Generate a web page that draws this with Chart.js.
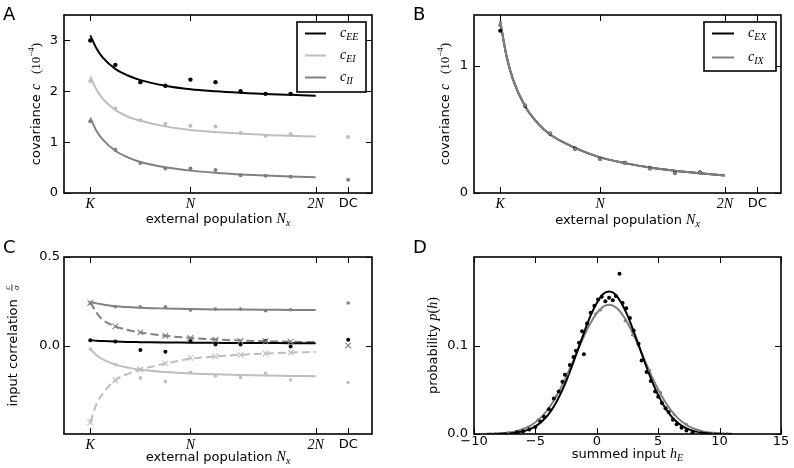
<!DOCTYPE html>
<html><head><meta charset="utf-8">
<script src="https://cdn.jsdelivr.net/npm/chart.js@4/dist/chart.umd.min.js"></script>
<style>
html,body{margin:0;padding:0;background:#fff;}
#wrap{position:relative;width:794px;height:468px;background:#fff;}
canvas{position:absolute;}
</style></head><body>
<div id="wrap">
<canvas id="cA" width="397" height="234" style="left:0;top:0"></canvas>
<canvas id="cB" width="397" height="234" style="left:397px;top:0"></canvas>
<canvas id="cC" width="397" height="234" style="left:0;top:234px"></canvas>
<canvas id="cD" width="397" height="234" style="left:397px;top:234px"></canvas>
</div>
<script>
// ---------- shared x axis (external population, in units of K) ----------
const xTickValues = [1, 5, 10, 11.3];
const xTickLabels = ['K', 'N', '2N', 'DC'];
const simX = [1, 2, 3, 4, 5, 6, 7, 8, 9];
const dcX = [11.3];
const theoryX = [1, 1.25, 1.5, 2, 2.5, 3, 4, 5, 6, 7, 8, 9, 10];

// ---------- Panel A: covariances (1e-4) ----------
const aYTicks = [0, 1, 2, 3];
const aEEsim = [3.00, 2.52, 2.18, 2.11, 2.23, 2.18, 2.00, 1.95, 1.95];
const aEIsim = [2.20, 1.66, 1.43, 1.36, 1.32, 1.31, 1.18, 1.12, 1.16];
const aIIsim = [1.41, 0.85, 0.59, 0.48, 0.48, 0.45, 0.35, 0.34, 0.32];
const aEIdc = [1.10];
const aIIdc = [0.26];
const aEEth = [3.10, 2.84, 2.66, 2.44, 2.31, 2.22, 2.11, 2.04, 2.00, 1.97, 1.945, 1.93, 1.91];
const aEIth = [2.29, 2.03, 1.85, 1.635, 1.50, 1.42, 1.31, 1.24, 1.20, 1.17, 1.14, 1.125, 1.11];
const aIIth = [1.48, 1.22, 1.05, 0.83, 0.70, 0.61, 0.505, 0.44, 0.397, 0.366, 0.343, 0.324, 0.31];

// ---------- Panel B: covariances with external population ----------
const bYTicks = [0, 1];
const bEXsim = [1.276, 0.684, 0.466, 0.350, 0.268, 0.237, 0.195, 0.158, 0.163];
const bIXsim = [1.320, 0.690, 0.470, 0.345, 0.265, 0.235, 0.190, 0.155, 0.160];
const bEXth = [1.35, 1.08, 0.90, 0.68, 0.55, 0.46, 0.355, 0.28, 0.235, 0.20, 0.175, 0.155, 0.137];
const bIXth = [1.35, 1.08, 0.90, 0.68, 0.55, 0.46, 0.355, 0.28, 0.235, 0.20, 0.175, 0.155, 0.137];

// ---------- Panel C: input correlations ----------
const cYTicks = [0, 0.5];
const cIIsim = [0.240, 0.219, 0.219, 0.219, 0.200, 0.206, 0.206, 0.196, 0.202];
const cEEsim = [0.030, 0.023, -0.025, -0.036, 0.025, 0.006, 0.006, 0.026, -0.006];
const cEIsim = [-0.020, -0.108, -0.183, -0.204, -0.151, -0.172, -0.181, -0.157, -0.194];
const cIIdc = [0.240];
const cEEdc = [0.032];
const cEIdc = [-0.209];
const cXdc = [0.000];
const cMidCross = [0.240, 0.108, 0.074, 0.055, 0.042, 0.032, 0.025, 0.024, 0.022];
const cLightCross = [-0.434, -0.196, -0.136, -0.102, -0.070, -0.062, -0.053, -0.045, -0.040];
const cIIth = [0.245, 0.238, 0.232, 0.222, 0.217, 0.213, 0.209, 0.206, 0.204, 0.203, 0.202, 0.201, 0.200];
const cEEth = [0.030, 0.027, 0.025, 0.022, 0.020, 0.019, 0.017, 0.016, 0.015, 0.014, 0.014, 0.013, 0.013];
const cEIth = [-0.020, -0.055, -0.078, -0.108, -0.125, -0.137, -0.150, -0.158, -0.163, -0.167, -0.170, -0.172, -0.174];
const cMidDash = [0.245, 0.185, 0.145, 0.108, 0.088, 0.074, 0.055, 0.043, 0.034, 0.028, 0.024, 0.021, 0.019];
const cLightDash = [-0.434, -0.330, -0.270, -0.196, -0.160, -0.136, -0.102, -0.075, -0.062, -0.052, -0.045, -0.040, -0.036];

// ---------- Panel D: distribution of summed input ----------
const dXTicks = [-10, -5, 0, 5, 10, 15];
const dYTicks = [0, 0.1];
const dCurveX = [-9,-8.5,-8,-7.5,-7,-6.5,-6,-5.5,-5,-4.5,-4,-3.5,-3,-2.5,-2,-1.5,-1,-0.5,0,0.5,1,1.5,2,2.5,3,3.5,4,4.5,5,5.5,6,6.5,7,7.5,8,8.5,9,9.5,10,10.5,11];
const dBlackCurve = [0.0000,0.0001,0.0002,0.0005,0.0009,0.0017,0.0030,0.0052,0.0086,0.0138,0.0211,0.0311,0.0439,0.0595,0.0774,0.0970,0.1160,0.1340,0.1480,0.1580,0.1610,0.1580,0.1480,0.1340,0.1160,0.0970,0.0774,0.0595,0.0439,0.0311,0.0211,0.0138,0.0086,0.0052,0.0030,0.0017,0.0009,0.0005,0.0002,0.0001,0.0000];
const dGrayCurve = [0.0002,0.0004,0.0007,0.0012,0.0020,0.0034,0.0056,0.0087,0.0132,0.0194,0.0276,0.0378,0.0503,0.0645,0.0801,0.0962,0.1118,0.1257,0.1366,0.1436,0.1460,0.1436,0.1366,0.1257,0.1118,0.0962,0.0801,0.0645,0.0503,0.0378,0.0276,0.0194,0.0132,0.0087,0.0056,0.0034,0.0020,0.0012,0.0007,0.0004,0.0002];
const dBlackX = [-6.5,-6,-5.5,-5,-4.6,-4.3,-3.9,-3.5,-3.1,-2.8,-2.6,-2.2,-1.9,-1.7,-1.45,-1.2,-1.05,-0.8,-0.5,-0.2,0.1,0.4,0.7,1.0,1.3,1.55,1.85,2.1,2.4,2.7,3.0,3.4,3.65,4.05,4.4,4.75,5.0,5.3,5.6,5.85,6.2,6.5,6.9,7.3,7.8];
const dBlackY = [0.002,0.003,0.005,0.008,0.014,0.0195,0.028,0.040,0.048,0.059,0.067,0.078,0.087,0.094,0.103,0.116,0.090,0.125,0.137,0.145,0.152,0.155,0.150,0.154,0.151,0.156,0.181,0.148,0.142,0.131,0.117,0.102,0.083,0.070,0.060,0.048,0.042,0.035,0.029,0.025,0.016,0.011,0.007,0.004,0.002];
const dGrayX = [-8.7,-8.3,-7.2,-5.6,-4.8,-3.3,-2.4,-0.1,0.3,2.3,2.9,4.3,5.2,6.3,7.3,8.3,9.5,10.3,10.6];
const dGrayY = [0.0004,0.0005,0.0015,0.008,0.016,0.043,0.068,0.136,0.140,0.128,0.112,0.072,0.047,0.022,0.011,0.004,0.001,0.0004,0.0003];

// ---------- styling ----------
const SANS = '"DejaVu Sans"';
const SERIF = '"Liberation Serif"';
const BLACK = '#000000', LIGHT = '#bdbdbd', MID = '#808080';
const fSans = (s) => s + 'px ' + SANS;
const fIt = (s) => 'italic ' + s + 'px ' + SERIF;
const fSer = (s) => s + 'px ' + SERIF;

function pts(xs, ys) { return xs.map((x, i) => ({ x: x, y: ys[i] })); }
function curve(xs, ys, color, dash) {
  return { data: pts(xs, ys), showLine: true, borderColor: color, borderWidth: 2,
    pointRadius: 0, fill: false, cubicInterpolationMode: 'monotone', borderDash: dash || [] };
}
function dots(xs, ys, color, r) {
  return { data: pts(xs, ys), showLine: false, pointRadius: r, pointBackgroundColor: color,
    pointBorderWidth: 0, pointBorderColor: color, pointHoverRadius: r };
}
function crosses(xs, ys, color) {
  return { data: pts(xs, ys), showLine: false, pointStyle: 'crossRot', pointRadius: 4,
    pointBorderColor: color, pointBorderWidth: 1.1, pointHoverRadius: 4 };
}

function runsWidth(ctx, runs) {
  let w = 0;
  for (const r of runs) {
    if (r.frac) { ctx.font = r.f; w += Math.max(ctx.measureText(r.num).width, ctx.measureText(r.den).width) + 2; }
    else { ctx.font = r.f; w += ctx.measureText(r.t).width; }
  }
  return w;
}
function drawRuns(ctx, runs, x, y) {
  let cx = x;
  for (const r of runs) {
    ctx.font = r.f;
    if (r.frac) {
      const w = Math.max(ctx.measureText(r.num).width, ctx.measureText(r.den).width) + 2;
      ctx.textAlign = 'center';
      ctx.fillText(r.num, cx + w / 2, y - 7);
      ctx.fillText(r.den, cx + w / 2, y + 2);
      ctx.fillRect(cx, y - 5.5, w, 0.8);
      ctx.textAlign = 'left';
      cx += w;
    } else {
      ctx.fillText(r.t, cx, y + (r.dy || 0));
      cx += ctx.measureText(r.t).width;
    }
  }
}

const framePlugin = {
  id: 'frame',
  afterDatasetsDraw(chart, args, o) {
    const ctx = chart.ctx, a = chart.chartArea, xs = chart.scales.x, ys = chart.scales.y;
    ctx.save();
    ctx.fillStyle = '#000'; ctx.strokeStyle = '#000';
    // inward ticks on all four sides
    ctx.lineWidth = 1;
    ctx.beginPath();
    for (const t of xs.ticks) {
      const px = Math.round(xs.getPixelForValue(t.value)) + 0.5;
      ctx.moveTo(px, a.bottom); ctx.lineTo(px, a.bottom - 6);
      ctx.moveTo(px, a.top); ctx.lineTo(px, a.top + 6);
    }
    for (const t of ys.ticks) {
      const py = Math.round(ys.getPixelForValue(t.value)) + 0.5;
      ctx.moveTo(a.left, py); ctx.lineTo(a.left + 6, py);
      ctx.moveTo(a.right, py); ctx.lineTo(a.right - 6, py);
    }
    ctx.stroke();
    ctx.lineWidth = 1.6;
    ctx.strokeRect(a.left, a.top, a.right - a.left, a.bottom - a.top);
    // legend
    if (o.legend) {
      const L = o.legend;
      ctx.fillStyle = '#fff';
      ctx.fillRect(L.x, L.y, L.w, L.h);
      ctx.lineWidth = 1.6; ctx.strokeStyle = '#000';
      ctx.strokeRect(L.x, L.y, L.w, L.h);
      for (const e of L.items) {
        ctx.strokeStyle = e.color; ctx.lineWidth = 2;
        ctx.beginPath(); ctx.moveTo(L.x1, e.y); ctx.lineTo(L.x2, e.y); ctx.stroke();
        ctx.fillStyle = '#000'; ctx.textBaseline = 'alphabetic'; ctx.textAlign = 'left';
        drawRuns(ctx, e.runs, L.tx, e.y + 3);
      }
    }
    ctx.fillStyle = '#000'; ctx.textBaseline = 'alphabetic'; ctx.textAlign = 'left';
    // x title
    if (o.xTitle) {
      const w = runsWidth(ctx, o.xTitle.runs);
      drawRuns(ctx, o.xTitle.runs, (a.left + a.right) / 2 - w / 2, o.xTitle.y);
    }
    // y title (rotated)
    if (o.yTitle) {
      const w = runsWidth(ctx, o.yTitle.runs);
      const cy = (o.yTitle.cy != null) ? o.yTitle.cy : (a.top + a.bottom) / 2;
      ctx.save();
      ctx.translate(o.yTitle.x, cy);
      ctx.rotate(-Math.PI / 2);
      drawRuns(ctx, o.yTitle.runs, -w / 2, 0);
      ctx.restore();
    }
    // panel letter
    if (o.letter) {
      ctx.font = fSans(18);
      ctx.fillText(o.letter.t, o.letter.x, o.letter.y);
    }
    ctx.restore();
  }
};

function setTicks(values) { return (scale) => { scale.ticks = values.map(v => ({ value: v })); }; }
function fixW(w) { return (scale) => { scale.width = w; }; }
function fixH(h) { return (scale) => { scale.height = h; }; }

function kAxis(pad, h) {
  return {
    type: 'linear', min: -0.05, max: 12.25,
    afterBuildTicks: setTicks(xTickValues), afterFit: fixH(h),
    grid: { display: false, drawTicks: false }, border: { display: false },
    ticks: {
      autoSkip: false, maxRotation: 0, padding: pad, color: '#000',
      callback: (v) => { const i = xTickValues.indexOf(v); return i >= 0 ? xTickLabels[i] : ''; },
      font: (c) => (c.tick && c.tick.value === 11.3) ? { family: SANS, size: 13, lineHeight: 1 }
        : { family: SERIF, size: 14, style: 'italic', lineHeight: 1 }
    }
  };
}
function yAxis(min, max, ticks, fmt, w, pad) {
  return {
    type: 'linear', min: min, max: max,
    afterBuildTicks: setTicks(ticks), afterFit: fixW(w),
    grid: { display: false, drawTicks: false }, border: { display: false },
    ticks: { padding: pad, color: '#000', font: { family: SANS, size: 13, lineHeight: 1 },
      callback: fmt }
  };
}
const baseOpts = (padding) => ({
  responsive: false, animation: false, devicePixelRatio: 1,
  layout: { padding: padding },
  plugins: { legend: { display: false }, tooltip: { enabled: false } },
  events: []
});

const xTitleK = [{ t: 'external population ', f: fSans(13) }, { t: 'N', f: fIt(14) }, { t: 'x', f: fIt(10), dy: 3 }];
const yTitleCov = [{ t: 'covariance ', f: fSans(13) }, { t: 'c', f: fIt(14) }, { t: '   (10', f: fSer(13) }, { t: '\u22124', f: fSer(9), dy: -6 }, { t: ')', f: fSer(13) }];

// ---------- Chart A ----------
{
  const o = baseOpts({ left: 24, right: 25, top: 15, bottom: 0 });
  o.scales = { x: kAxis(4, 41), y: yAxis(0, 3.5, aYTicks, (v) => String(v), 40, 6) };
  o.plugins.frame = {
    letter: { t: 'A', x: 3, y: 20 },
    xTitle: { runs: xTitleK, y: 223 },
    yTitle: { runs: yTitleCov, x: 40 },
    legend: { x: 297, y: 22, w: 69, h: 70, x1: 305, x2: 326, tx: 340, items: [
      { color: BLACK, y: 33.5, runs: [{ t: 'c', f: fIt(14) }, { t: 'EE', f: fIt(10), dy: 3 }] },
      { color: LIGHT, y: 55.5, runs: [{ t: 'c', f: fIt(14) }, { t: 'EI', f: fIt(10), dy: 3 }] },
      { color: MID, y: 77.5, runs: [{ t: 'c', f: fIt(14) }, { t: 'II', f: fIt(10), dy: 3 }] }
    ] }
  };
  new Chart(document.getElementById('cA'), {
    type: 'scatter',
    data: { datasets: [
      dots(simX, aEEsim, BLACK, 2.2),
      dots(simX, aEIsim, LIGHT, 2),
      dots(simX, aIIsim, MID, 2),
      dots(dcX, aEIdc, LIGHT, 2),
      dots(dcX, aIIdc, MID, 2),
      curve(theoryX, aEEth, BLACK),
      curve(theoryX, aEIth, LIGHT),
      curve(theoryX, aIIth, MID)
    ] },
    options: o, plugins: [framePlugin]
  });
}

// ---------- Chart B ----------
{
  const o = baseOpts({ left: 37, right: 13, top: 15, bottom: 0 });
  o.scales = { x: kAxis(4, 41), y: yAxis(0, 1.4, bYTicks, (v) => String(v), 40, 6) };
  o.plugins.frame = {
    letter: { t: 'B', x: 16, y: 20 },
    xTitle: { runs: xTitleK, y: 224 },
    yTitle: { runs: yTitleCov, x: 52 },
    legend: { x: 307, y: 22, w: 72, h: 49, x1: 315, x2: 337, tx: 351, items: [
      { color: BLACK, y: 33.5, runs: [{ t: 'c', f: fIt(14) }, { t: 'EX', f: fIt(10), dy: 3 }] },
      { color: MID, y: 57.5, runs: [{ t: 'c', f: fIt(14) }, { t: 'IX', f: fIt(10), dy: 3 }] }
    ] }
  };
  new Chart(document.getElementById('cB'), {
    type: 'scatter',
    data: { datasets: [
      dots(simX, bIXsim, MID, 2),
      dots(simX, bEXsim, BLACK, 2),
      curve(theoryX, bIXth, MID),
      curve(theoryX, bEXth, BLACK)
    ] },
    options: o, plugins: [framePlugin]
  });
}

// ---------- Chart C ----------
{
  const o = baseOpts({ left: 24, right: 25, top: 23, bottom: 0 });
  o.scales = { x: kAxis(4, 34), y: yAxis(-0.5, 0.5, cYTicks, (v) => v.toFixed(1), 40, 4) };
  o.plugins.frame = {
    letter: { t: 'C', x: 3, y: 19 },
    xTitle: { runs: xTitleK, y: 227 },
    yTitle: { runs: [{ t: 'input correlation  ', f: fSans(13) }, { frac: true, num: 'c', den: '\u03c3', f: fIt(9) }], x: 17 }
  };
  new Chart(document.getElementById('cC'), {
    type: 'scatter',
    data: { datasets: [
      crosses(simX, cMidCross, MID),
      crosses(simX, cLightCross, LIGHT),
      crosses(dcX, cXdc, MID),
      dots(simX, cEEsim, BLACK, 2),
      dots(simX, cIIsim, MID, 1.8),
      dots(simX, cEIsim, LIGHT, 1.8),
      dots(dcX, cEEdc, BLACK, 2),
      dots(dcX, cIIdc, MID, 1.8),
      dots(dcX, cEIdc, LIGHT, 1.8),
      curve(theoryX, cEEth, BLACK),
      curve(theoryX, cIIth, MID),
      curve(theoryX, cEIth, LIGHT),
      curve(theoryX, cMidDash, MID, [8, 4]),
      curve(theoryX, cLightDash, LIGHT, [8, 4])
    ] },
    options: o, plugins: [framePlugin]
  });
}

// ---------- Chart D ----------
{
  const o = baseOpts({ left: 37, right: 13, top: 23, bottom: 0 });
  o.scales = {
    x: {
      type: 'linear', min: -10, max: 15,
      afterBuildTicks: setTicks(dXTicks), afterFit: fixH(34),
      grid: { display: false, drawTicks: false }, border: { display: false },
      ticks: { autoSkip: false, maxRotation: 0, padding: 1, color: '#000',
        font: { family: SANS, size: 13, lineHeight: 1 },
        callback: (v) => v < 0 ? '\u2212' + Math.abs(v) : String(v) }
    },
    y: yAxis(0, 0.2, dYTicks, (v) => v.toFixed(1), 40, 6)
  };
  o.plugins.frame = {
    letter: { t: 'D', x: 16, y: 19 },
    xTitle: { runs: [{ t: 'summed input ', f: fSans(13) }, { t: 'h', f: fIt(14) }, { t: 'E', f: fIt(10), dy: 3 }], y: 224 },
    yTitle: { runs: [{ t: 'probability ', f: fSans(13) }, { t: 'p', f: fIt(14) }, { t: '(', f: fSer(14) }, { t: 'h', f: fIt(14) }, { t: ')', f: fSer(14) }], x: 40 }
  };
  new Chart(document.getElementById('cD'), {
    type: 'scatter',
    data: { datasets: [
      dots(dBlackX, dBlackY, BLACK, 2),
      dots(dGrayX, dGrayY, MID, 1.5),
      curve(dCurveX, dBlackCurve, BLACK),
      curve(dCurveX, dGrayCurve, MID)
    ] },
    options: o, plugins: [framePlugin]
  });
}
</script>
</body></html>
